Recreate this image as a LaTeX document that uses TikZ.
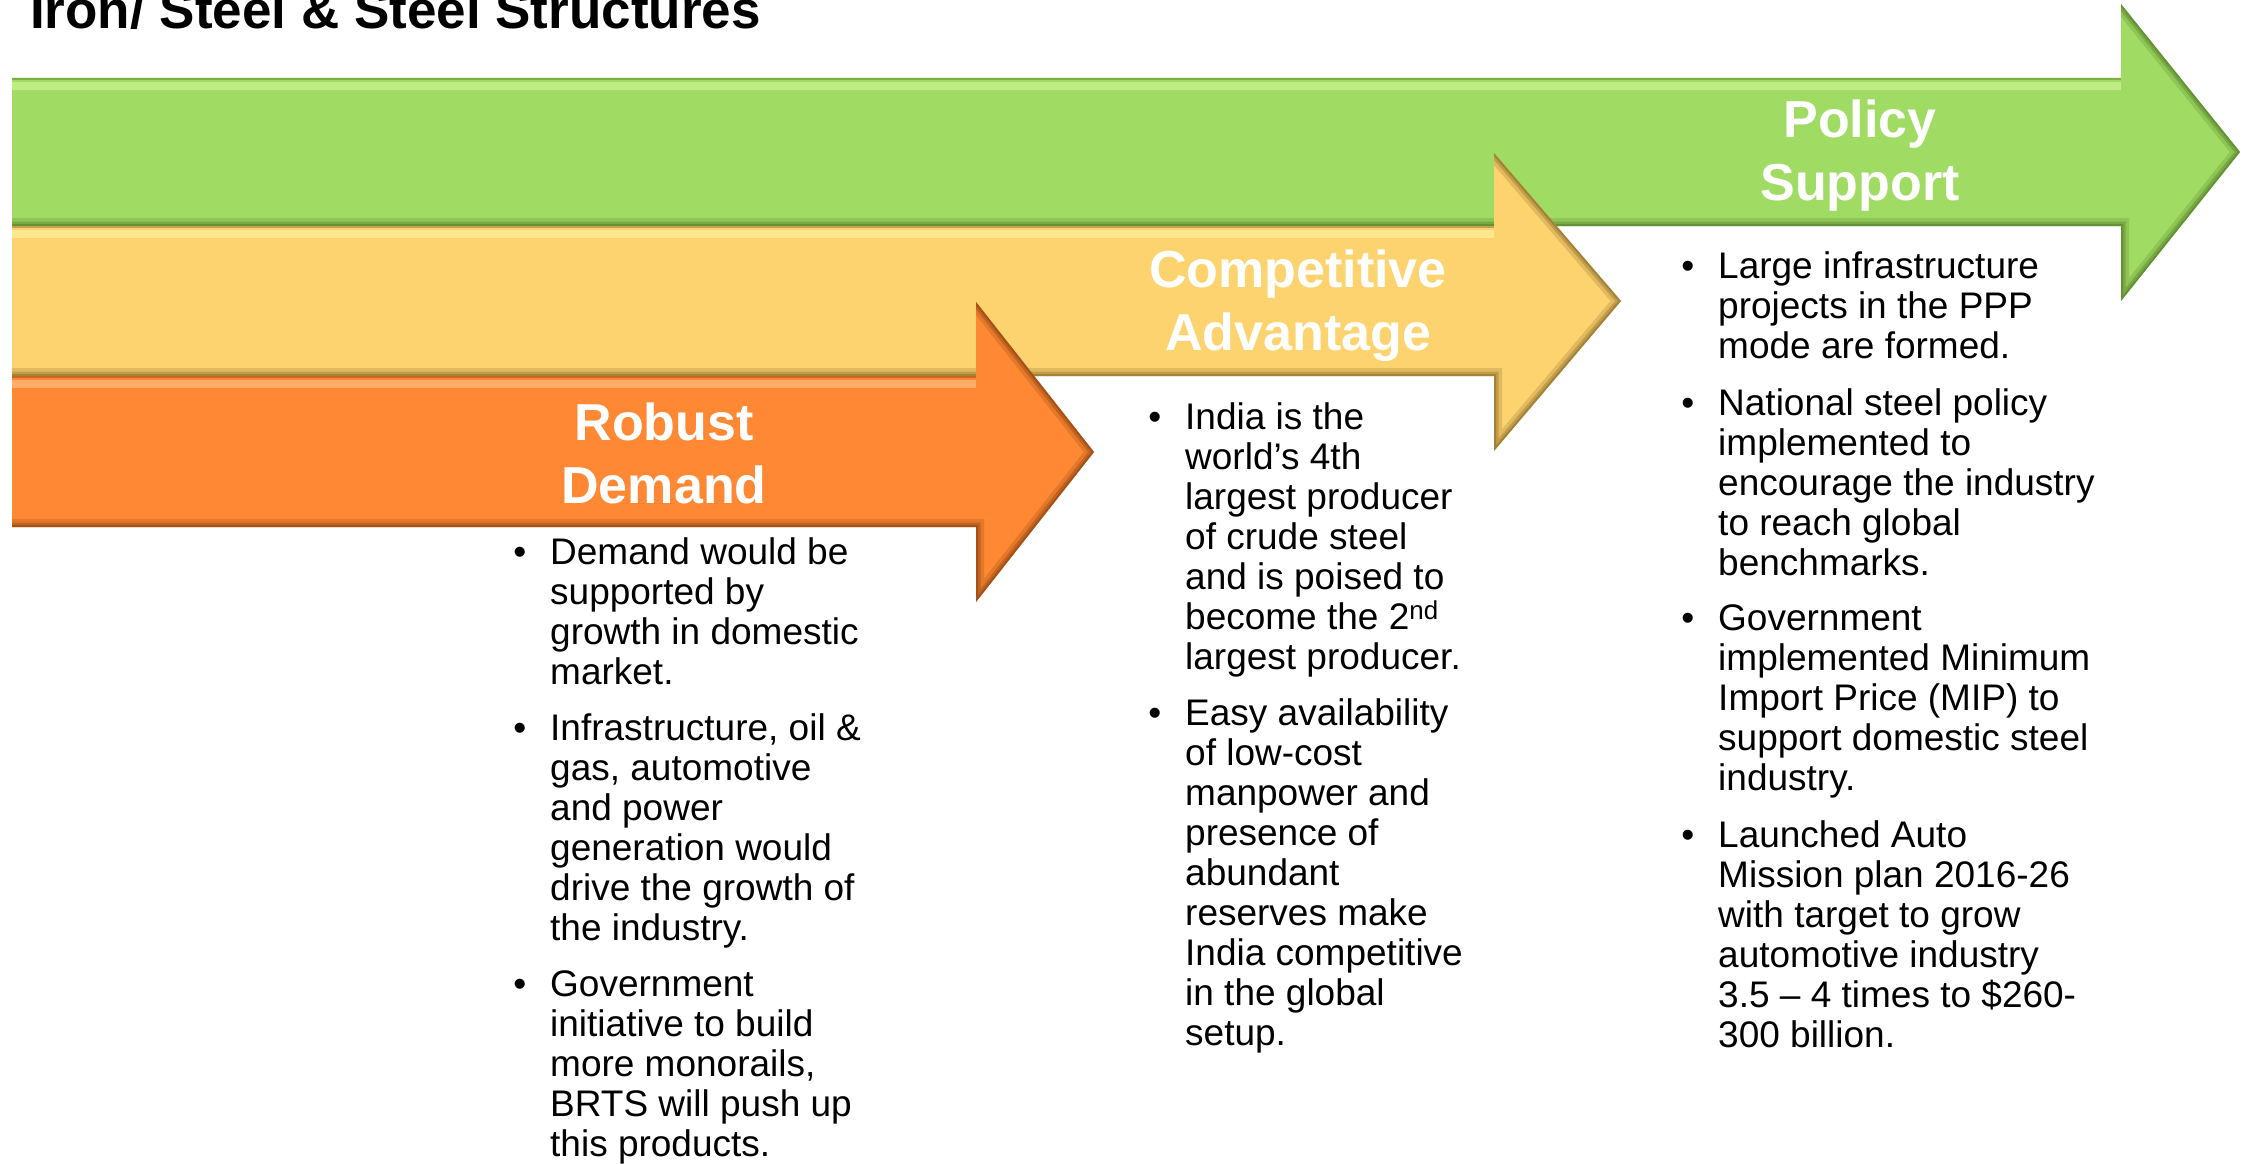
\documentclass[tikz,border=0pt]{standalone}
\usepackage{fontspec}
\setmainfont{Liberation Sans}
\usetikzlibrary{positioning}
\definecolor{grn}{RGB}{160,219,99}
\definecolor{grnlt}{RGB}{206,244,150}
\definecolor{grndk}{RGB}{70,110,30}
\definecolor{ylw}{RGB}{253,211,111}
\definecolor{ylwlt}{RGB}{255,240,160}
\definecolor{ylwdk}{RGB}{120,90,30}
\definecolor{org}{RGB}{254,136,51}
\definecolor{orglt}{RGB}{255,190,130}
\definecolor{orgdk}{RGB}{120,55,10}
\newcommand{\bul}{\llap{\textbullet\hspace{24pt}}}
\begin{document}
\begin{tikzpicture}[x=1pt, y=-1pt]
\tikzstyle{every node}=[inner sep=0pt]
\tikzstyle{lab}=[white, font=\bfseries\fontsize{52}{63}\selectfont, align=center, anchor=north, execute at begin node=\strut]
\tikzstyle{item}=[font=\fontsize{37}{40}\selectfont, align=left, anchor=north west, execute at begin node=\strut, execute at end node=\strut]
\tikzstyle{rim1}=[line width=16pt, opacity=.2, line join=miter]
\tikzstyle{rim2}=[line width=9pt, opacity=.3, line join=miter]
\tikzstyle{rim3}=[line width=4pt, opacity=.4, line join=miter]
\tikzstyle{shine}=[line width=8pt, opacity=.7]
\useasboundingbox (0,0) rectangle (2247,1164);
\fill[white] (0,0) rectangle (2247,1164);

\begin{scope}
\clip (12,78) -- (2121,78) -- (2121,4) -- (2240,152) -- (2121,301) -- (2121,226) -- (12,226) -- cycle;
\fill[grn] (0,0) rectangle (2247,320);
\draw[grndk, rim3] (0,78) -- (2121,78);
\draw[grnlt, shine] (0,86) -- (2121,86);
\foreach \r in {rim1,rim2,rim3}
  \draw[grndk, \r] (2121,4) -- (2240,152) -- (2121,301) -- (2121,226) -- (0,226);
\end{scope}
\begin{scope}
\clip (12,226) -- (1494,226) -- (1494,153) -- (1621,301) -- (1494,451) -- (1494,376) -- (12,376) -- cycle;
\fill[ylw] (0,140) rectangle (1700,460);
\draw[ylwdk, rim3] (0,226) -- (1494,226);
\draw[ylwlt, shine] (0,234) -- (1494,234);
\foreach \r in {rim1,rim2,rim3}
  \draw[ylwdk, \r] (1494,153) -- (1621,301) -- (1494,451) -- (1494,376) -- (0,376);
\end{scope}
\begin{scope}
\clip (12,376) -- (976,376) -- (976,302) -- (1094,452) -- (976,602) -- (976,527) -- (12,527) -- cycle;
\fill[org] (0,290) rectangle (1200,620);
\draw[orgdk, rim3] (0,376) -- (976,376);
\draw[orglt, shine] (0,384) -- (976,384);
\foreach \r in {rim1,rim2,rim3}
  \draw[orgdk, \r] (976,302) -- (1094,452) -- (976,602) -- (976,527) -- (0,527);
\end{scope}

\node[font=\bfseries\fontsize{53}{64}\selectfont, anchor=base west] (ttl) at (30,29) {Iron/ Steel \& Steel Structures};
\node[lab] (pol) at (1860,100) {Policy\\Support};
\node[lab] (cmp) at (1298,250) {Competitive\\Advantage};
\node[lab] (rob) at (664,403) {Robust\\Demand};

\node[item] (d1) at (550,537) {\bul Demand would be\\supported by\\growth in domestic\\market.};
\node[item, below right=17.5pt and 0pt of d1.south west] (d2) {\bul Infrastructure, oil \&\\gas, automotive\\and power\\generation would\\drive the growth of\\the industry.};
\node[item, below right=17.5pt and 0pt of d2.south west] (d3) {\bul Government\\initiative to build\\more monorails,\\BRTS will push up\\this products.};

\node[item] (c1) at (1185,402) {\bul India is the\\world’s 4th\\largest producer\\of crude steel\\and is poised to\\become the 2\textsuperscript{nd}\\largest producer.};
\node[item, below right=17.5pt and 0pt of c1.south west] (c2) {\bul Easy availability\\of low-cost\\manpower and\\presence of\\abundant\\reserves make\\India competitive\\in the global\\setup.};

\node[item] (p1) at (1718,251.5) {\bul Large infrastructure\\projects in the PPP\\mode are formed.};
\node[item, below right=17.5pt and 0pt of p1.south west] (p2) {\bul National steel policy\\implemented to\\encourage the industry\\to reach global\\benchmarks.};
\node[item, below right=17.5pt and 0pt of p2.south west] (p3) {\bul Government\\implemented Minimum\\Import Price (MIP) to\\support domestic steel\\industry.};
\node[item, below right=17.5pt and 0pt of p3.south west] (p4) {\bul Launched Auto\\Mission plan 2016-26\\with target to grow\\automotive industry\\3.5 – 4 times to \$260-\\300 billion.};
\end{tikzpicture}
\end{document}
